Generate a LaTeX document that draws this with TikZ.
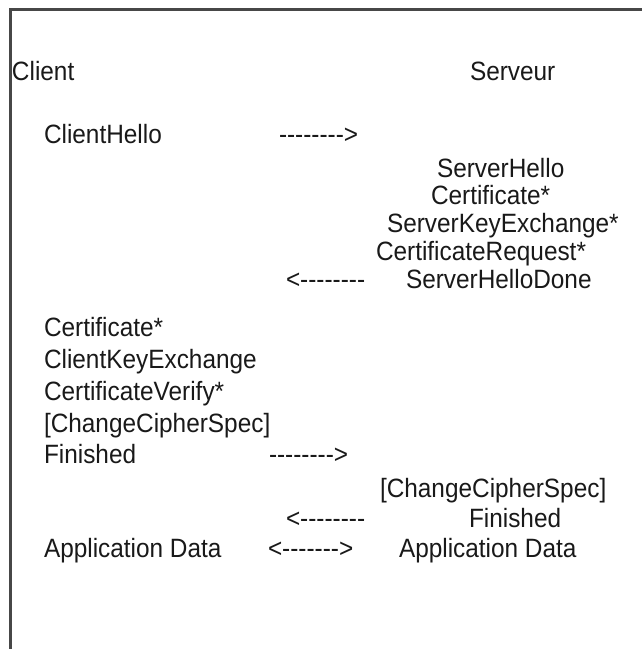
\documentclass[tikz,border=0pt]{standalone}
\usepackage{fontspec}
\newfontfamily\lsans{Liberation Sans}[FakeStretch=0.92]
\newcommand\hy{-\kern0pt}
\newcommand\rarr{\hy\hy\hy\hy\hy\hy\hy\hy>}
\newcommand\larr{<\kern0pt\hy\hy\hy\hy\hy\hy\hy\hy}
\newcommand\barr{<\kern0pt\hy\hy\hy\hy\hy\hy\hy>}
\begin{document}
\begin{tikzpicture}[x=1pt,y=-1pt,
  txt/.style={anchor=base west,inner sep=0pt,outer sep=0pt,text=black!90,
    font=\lsans\fontsize{26.5}{30}\selectfont},
  frame/.style={draw=black!72,line width=2.2pt}]
\useasboundingbox (0,0) rectangle (642,649);
\coordinate (tl) at (10.5,9.5);
\coordinate (tr) at (642,9.5);
\coordinate (bl) at (10.5,649);
\draw[frame] (tr) -- (tl) -- (bl);
% headers
\node[txt] (client) at (12,80) {Client};
\node[txt] (serveur) at (470,80) {Serveur};
% ClientHello
\node[txt] (ch) at (44,143) {ClientHello};
\node[txt] (a1) at (279,143) {\rarr};
% server flight
\node[txt] (sh) at (437,177) {ServerHello};
\node[txt] (scert) at (431,204) {Certificate*};
\node[txt] (ske) at (387,232) {ServerKeyExchange*};
\node[txt] (cr) at (376,260) {CertificateRequest*};
\node[txt] (a2) at (286,288) {\larr};
\node[txt] (shd) at (406,288) {ServerHelloDone};
% client flight
\node[txt] (ccert) at (44,336) {Certificate*};
\node[txt] (cke) at (44,368) {ClientKeyExchange};
\node[txt] (cv) at (44,400) {CertificateVerify*};
\node[txt] (cccs) at (44,432) {[ChangeCipherSpec]};
\node[txt] (cfin) at (44,463) {Finished};
\node[txt] (a3) at (269,463) {\rarr};
% server finish
\node[txt] (sccs) at (380,497) {[ChangeCipherSpec]};
\node[txt] (a4) at (286,527) {\larr};
\node[txt] (sfin) at (469,527) {Finished};
% application data
\node[txt] (cad) at (44,557) {Application Data};
\node[txt] (a5) at (268,557) {\barr};
\node[txt] (sad) at (399,557) {Application Data};
\end{tikzpicture}
\end{document}
